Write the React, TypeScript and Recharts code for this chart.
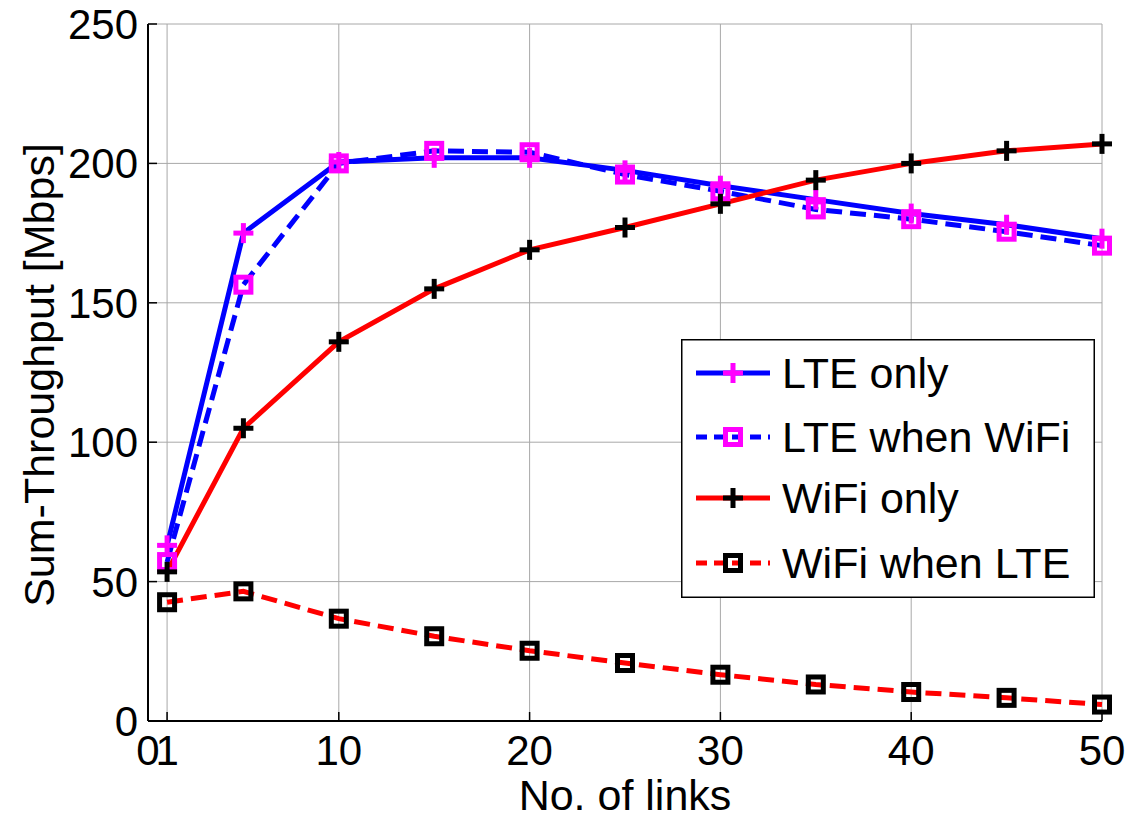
import React from 'react';
import { LineChart, Line, XAxis, YAxis, CartesianGrid, Legend } from 'recharts';

const links = [1, 5, 10, 15, 20, 25, 30, 35, 40, 45, 50];
const lteOnly = [63, 175, 200.5, 202, 202, 197.5, 192, 187, 182, 178, 173];
const lteWhenWifi = [57, 156.5, 200, 204.5, 204, 196, 190, 183.5, 180, 175.5, 170.5];
const wifiOnly = [53.5, 105, 136, 155, 169, 177, 185.5, 194, 200, 204.5, 207];
const wifiWhenLte = [42.6, 46.5, 36.7, 30.4, 25.2, 20.8, 16.6, 13.1, 10.4, 8.3, 5.9];

const xTicks = [0, 1, 10, 20, 30, 40, 50];
const yTicks = [0, 50, 100, 150, 200, 250];

const FONT = '"Liberation Sans", Arial, sans-serif';

const data = links.map((n, i) => ({
  links: n,
  lteOnly: lteOnly[i],
  lteWhenWifi: lteWhenWifi[i],
  wifiOnly: wifiOnly[i],
  wifiWhenLte: wifiWhenLte[i],
}));

type MarkerKind = 'plus' | 'square';

// series styles, in MATLAB plot order (later ones on top)
const series = [
  { key: 'lteOnly', name: 'LTE only', line: '#0000ff', dash: undefined, marker: 'plus' as MarkerKind, markColor: '#ff00ff' },
  { key: 'lteWhenWifi', name: 'LTE when WiFi', line: '#0000ff', dash: '16 8', marker: 'square' as MarkerKind, markColor: '#ff00ff' },
  { key: 'wifiOnly', name: 'WiFi only', line: '#ff0000', dash: undefined, marker: 'plus' as MarkerKind, markColor: '#000000' },
  { key: 'wifiWhenLte', name: 'WiFi when LTE', line: '#ff0000', dash: '16 8', marker: 'square' as MarkerKind, markColor: '#000000' },
];

function Marker({ cx, cy, kind, color }: { cx: number; cy: number; kind: MarkerKind; color: string }) {
  if (kind === 'plus') {
    const a = 10;
    return (
      <g>
        <line x1={cx - a} x2={cx + a} y1={cy} y2={cy} stroke={color} strokeWidth={5} />
        <line x1={cx} x2={cx} y1={cy - a} y2={cy + a} stroke={color} strokeWidth={5} />
      </g>
    );
  }
  const s = 7.5;
  return <rect x={cx - s} y={cy - s} width={2 * s} height={2 * s} fill="none" stroke={color} strokeWidth={5} />;
}

function LegendBox() {
  const rowY = [34, 98, 159, 224];
  return (
    <svg width={414} height={259} style={{ display: 'block' }}>
      <rect x={0.75} y={0.75} width={412.5} height={257.5} fill="#ffffff" stroke="#000000" strokeWidth={1.5} />
      {series.map((s, i) => (
        <g key={s.key}>
          <line x1={15} x2={89} y1={rowY[i]} y2={rowY[i]} stroke={s.line} strokeWidth={5} strokeDasharray={s.dash ? '11 7' : undefined} />
          <Marker cx={52} cy={rowY[i]} kind={s.marker} color={s.markColor} />
          <text x={101} y={rowY[i] + 15} fontFamily={FONT} fontSize={43} fill="#000000">{s.name}</text>
        </g>
      ))}
    </svg>
  );
}

export default function App() {
  return (
    <div style={{ width: 1128, height: 817, background: '#ffffff' }}>
      <style>{'body{margin:0;background:#fff}'}</style>
      <LineChart width={1128} height={817} data={data} margin={{ top: 24, right: 26, left: 0, bottom: 0 }}>
        <CartesianGrid stroke="#a8a8a8" strokeWidth={1} />
        <XAxis
          dataKey="links"
          type="number"
          domain={[0, 50]}
          ticks={xTicks}
          interval={0}
          height={96}
          tickSize={-9}
          tickMargin={23}
          axisLine={{ stroke: '#000000', strokeWidth: 2 }}
          tickLine={{ stroke: '#000000', strokeWidth: 1.5 }}
          tick={{ fill: '#000000', fontSize: 42, fontFamily: FONT }}
          label={{
            content: () => (
              <text x={625} y={810} textAnchor="middle" fontFamily={FONT} fontSize={43} fill="#000000">No. of links</text>
            ),
          }}
        />
        <XAxis
          xAxisId="top"
          orientation="top"
          type="number"
          domain={[0, 50]}
          ticks={xTicks}
          interval={0}
          height={0}
          tickSize={-9}
          tick={false}
          axisLine={{ stroke: '#000000', strokeWidth: 2 }}
          tickLine={{ stroke: '#000000', strokeWidth: 1.5 }}
        />
        <YAxis
          type="number"
          domain={[0, 250]}
          ticks={yTicks}
          interval={0}
          width={148}
          tickSize={-9}
          tickMargin={19}
          axisLine={{ stroke: '#000000', strokeWidth: 2 }}
          tickLine={{ stroke: '#000000', strokeWidth: 1.5 }}
          tick={{ fill: '#000000', fontSize: 42, fontFamily: FONT }}
          label={{
            content: () => (
              <text x={54} y={375} transform="rotate(-90 54 375)" textAnchor="middle" fontFamily={FONT} fontSize={43} fill="#000000">
                Sum-Throughput [Mbps]
              </text>
            ),
          }}
        />
        <YAxis
          yAxisId="right"
          orientation="right"
          type="number"
          domain={[0, 250]}
          ticks={yTicks}
          interval={0}
          width={0}
          tickSize={-9}
          tick={false}
          axisLine={{ stroke: '#000000', strokeWidth: 2 }}
          tickLine={{ stroke: '#000000', strokeWidth: 1.5 }}
        />
        {series.map((s) => (
          <Line
            key={s.key}
            type="linear"
            dataKey={s.key}
            name={s.name}
            stroke={s.line}
            strokeWidth={5}
            strokeDasharray={s.dash}
            isAnimationActive={false}
            dot={(p: any) => <Marker key={`${s.key}-${p.index}`} cx={p.cx} cy={p.cy} kind={s.marker} color={s.markColor} />}
            activeDot={false}
          />
        ))}
        <Legend
          layout="vertical"
          align="center"
          verticalAlign="middle"
          wrapperStyle={{ left: 681, top: 339, width: 414, height: 259 }}
          content={() => <LegendBox />}
        />
      </LineChart>
    </div>
  );
}
